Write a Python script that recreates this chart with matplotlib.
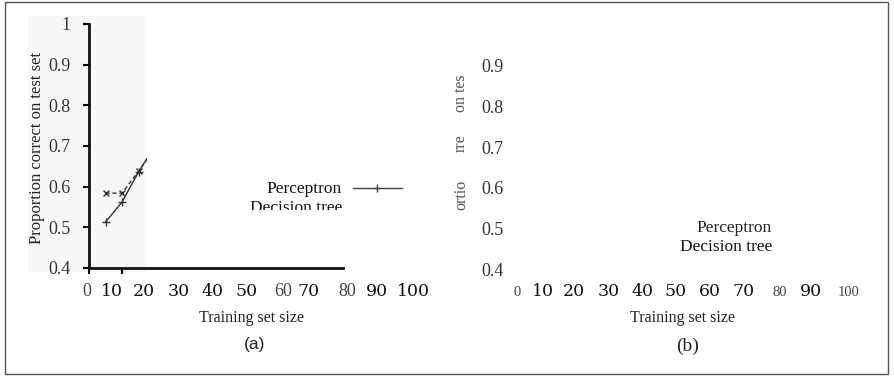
import numpy as np
import matplotlib
matplotlib.use('Agg')
import matplotlib.pyplot as plt
from matplotlib.patches import Rectangle
from matplotlib.lines import Line2D
from matplotlib.transforms import Bbox

# data
train_size = [5, 10, 15, 20]
perceptron = [0.513, 0.562, 0.636, 0.70]
decision_tree = [0.584, 0.584, 0.638, 0.695]

y_ticks = [0.4, 0.5, 0.6, 0.7, 0.8, 0.9, 1.0]
y_labels_a = ['0.4', '0.5', '0.6', '0.7', '0.8', '0.9', '1']
y_labels_b = ['0.4', '0.5', '0.6', '0.7', '0.8', '0.9', '']
x_labels = ['0', '10', '20', '30', '40', '50', '60', '70', '80', '90', '100']
# which tick labels came out in the narrow serif face (s) vs the wide one (w)
x_style_a = ['s', 'w', 'w', 'w', 'w', 'w', 's', 'w', 's', 'w', 'w']
x_style_b = ['s', 'w', 'w', 'w', 'w', 'w', 'w', 'w', 's', 'w', 's']

W, H = 894, 376
SERIF = 'Liberation Serif'
WIDE = 'DejaVu Serif'

fig = plt.figure(figsize=(W / 100, H / 100), dpi=100)


def fx(x):
    return x / W


def fy(y):
    return 1 - y / H


def ftext(x, y, s, **kw):
    return fig.text(fx(x), fy(y), s, **kw)


# outer frame
fig.patches.append(Rectangle((fx(5), fy(374)), fx(883), 372 / H, transform=fig.transFigure,
                             fill=False, edgecolor='#555555', lw=1, zorder=-2))
# faint scanned patch behind the left plot
fig.patches.append(Rectangle((fx(28), fy(272)), fx(119), 256 / H, transform=fig.transFigure,
                             facecolor='#f8f8f8', edgecolor='none', zorder=-5))

# ---- panel (a)
px_per_unit = 3.3
ax = fig.add_axes([fx(89), fy(268), fx(254), 244 / H])
ax.patch.set_alpha(0)
ax.set_xlim(0, 254 / px_per_unit)
ax.set_ylim(0.4, 1.0)
for s in ['top', 'right']:
    ax.spines[s].set_visible(False)
for s in ['left', 'bottom']:
    ax.spines[s].set_linewidth(2)
    ax.spines[s].set_color('#111111')
ax.set_yticks(y_ticks)
ax.set_yticklabels(y_labels_a, fontfamily=SERIF, fontsize=13, color='#333333')
ax.set_xticks([0, 10])
ax.set_xticklabels([])
ax.tick_params(axis='y', direction='out', length=4, width=1.5, pad=9)
ax.tick_params(axis='x', direction='out', length=4, width=1.5)

clip = Rectangle((0, 0.4), 17.6, 0.6, transform=ax.transData)
l1, = ax.plot(train_size, perceptron, '-', marker='+', color='#333333', lw=1, ms=6, mew=1)
l2, = ax.plot(train_size, decision_tree, '--', marker='x', color='#333333', lw=1, ms=5, mew=1,
              dashes=(3, 2))
l1.set_clip_path(clip)
l2.set_clip_path(clip)

ftext(37, 148, 'Proportion correct on test set', rotation=90, ha='center', va='center',
      fontfamily=SERIF, fontsize=12, color='#222222')

x_pos_a = [87, 112, 144, 179, 213, 247, 283, 309, 347, 377, 413]
for xp, lab, st in zip(x_pos_a, x_labels, x_style_a):
    if st == 'w':
        ftext(xp, 291, lab, ha='center', va='center', fontfamily=WIDE, fontsize=12.5, color='#111111')
    else:
        ftext(xp, 291, lab, ha='center', va='center', fontfamily=SERIF, fontsize=13, color='#444444')

ftext(252, 318, 'Training set size', ha='center', va='center', fontfamily=SERIF, fontsize=11.5,
      color='#222222')
ftext(255, 345, '(a)', ha='center', va='center', fontfamily='Liberation Sans', fontsize=12.5,
      color='#222222')

# legend of panel (a)
ftext(342, 189, 'Perceptron', ha='right', va='center', fontfamily=SERIF, fontsize=12.5,
      color='#111111')
dt = ftext(342, 208, 'Decision tree', ha='right', va='center', fontfamily=SERIF, fontsize=12.5,
           color='#111111')
dt.set_clip_box(Bbox([[0, H - 210], [W, H]]))
dt.set_clip_on(True)
fig.lines.append(Line2D([fx(353), fx(402)], [fy(188), fy(188)], transform=fig.transFigure,
                        color='#444444', lw=1))
fig.lines.append(Line2D([fx(377)], [fy(188)], transform=fig.transFigure, color='#444444',
                        marker='+', ms=6, lw=0))

# ---- panel (b)
bx = fig.add_axes([fx(509), fy(269), fx(340), 244 / H])
bx.patch.set_alpha(0)
bx.set_xlim(0, 100)
bx.set_ylim(0.4, 1.0)
for s in bx.spines.values():
    s.set_visible(False)
bx.set_xticks([])
bx.set_yticks(y_ticks)
bx.set_yticklabels(y_labels_b, fontfamily=SERIF, fontsize=13, color='#333333')
bx.tick_params(axis='y', length=0, pad=4)

for yp, frag in [(195, 'ortio'), (143, 'rre'), (93, 'on tes')]:
    ftext(461, yp, frag, rotation=90, ha='center', va='center', fontfamily=SERIF, fontsize=11.5,
          color='#555555')

x_pos_b = [517, 543, 574, 609, 643, 676, 710, 744, 780, 811, 849]
for xp, lab, st in zip(x_pos_b, x_labels, x_style_b):
    if st == 'w':
        ftext(xp, 291, lab, ha='center', va='center', fontfamily=WIDE, fontsize=12.5, color='#111111')
    else:
        ftext(xp, 292, lab, ha='center', va='center', fontfamily=SERIF, fontsize=10.5, color='#444444')

ftext(682, 318, 'Training set size', ha='center', va='center', fontfamily=SERIF, fontsize=11.5,
      color='#222222')
ftext(688, 346, '(b)', ha='center', va='center', fontfamily=SERIF, fontsize=14, color='#222222')

ftext(772, 228, 'Perceptron', ha='right', va='center', fontfamily=SERIF, fontsize=12.5,
      color='#222222')
ftext(772, 247, 'Decision tree', ha='right', va='center', fontfamily=SERIF, fontsize=12.5,
      color='#111111')

fig.savefig('out.png', dpi=100)
